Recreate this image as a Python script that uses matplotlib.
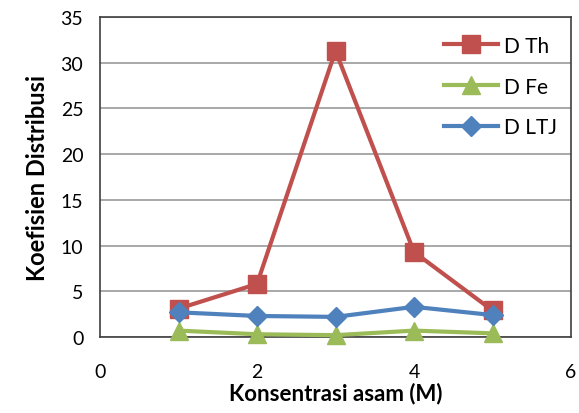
import matplotlib
matplotlib.use("Agg")

import matplotlib.pyplot as plt

# --- Data -------------------------------------------------------------------
konsentrasi = [1, 2, 3, 4, 5]
d_th = [3.1, 5.8, 31.3, 9.3, 2.9]
d_fe = [0.7, 0.3, 0.2, 0.7, 0.4]
d_ltj = [2.7, 2.3, 2.2, 3.3, 2.4]

x_ticks = [0, 2, 4, 6]
y_ticks = [0, 5, 10, 15, 20, 25, 30, 35]

RED = "#C0504D"
GREEN = "#9BBB59"
BLUE = "#4F81BD"

plt.rcParams["font.family"] = ["Lato", "DejaVu Sans"]

fig = plt.figure(figsize=(5.79, 4.14), dpi=100)
ax = fig.add_axes([100 / 579, 76 / 414, 471 / 579, 320 / 414])

ax.plot(konsentrasi, d_th, color=RED, lw=3, marker="s", ms=13,
        label="D Th", zorder=3)
ax.plot(konsentrasi, d_fe, color=GREEN, lw=3, marker="^", ms=13,
        label="D Fe", zorder=3, clip_on=False)
ax.plot(konsentrasi, d_ltj, color=BLUE, lw=3, marker="D", ms=10,
        label="D LTJ", zorder=4)

ax.set_xlim(0, 6)
ax.set_ylim(0, 35)
ax.set_xticks(x_ticks)
ax.set_yticks(y_ticks)
ax.tick_params(axis="both", length=0, labelsize=14)
ax.tick_params(axis="x", pad=19)
ax.tick_params(axis="y", pad=12)

ax.yaxis.grid(True, color="#999999", lw=1.2)
ax.set_axisbelow(True)
for s in ax.spines.values():
    s.set_color("#404040")
    s.set_linewidth(1.2)

ax.set_xlabel("Konsentrasi asam (M)", fontsize=16, fontweight="bold", labelpad=1)
ax.set_ylabel("Koefisien Distribusi", fontsize=17, fontweight="bold", labelpad=8)

ax.legend(loc="upper right", frameon=False, fontsize=15, labelspacing=1.0,
          handlelength=2.6, handletextpad=0.3, bbox_to_anchor=(1.01, 1.0))

fig.savefig("out.png", dpi=100)
